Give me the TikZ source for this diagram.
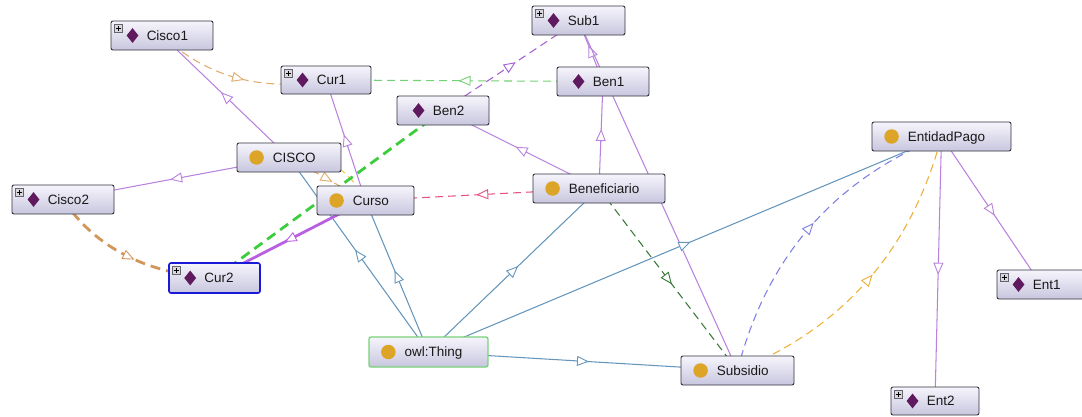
\documentclass[tikz,border=0pt]{standalone}
\usepackage{fontspec}
\setmainfont{Liberation Sans}
\usetikzlibrary{arrows.meta,decorations.markings,shapes.geometric}
\pgfdeclarelayer{bg}
\pgfdeclarelayer{edges}
\pgfsetlayers{bg,edges,main}
\definecolor{nodetop}{RGB}{246,245,252}
\definecolor{nodebot}{RGB}{200,198,222}
\definecolor{nodeborder}{RGB}{50,50,60}
\definecolor{diamc}{RGB}{95,25,95}
\definecolor{goldc}{RGB}{220,165,40}
\definecolor{vioc}{RGB}{185,130,222}
\definecolor{viothick}{RGB}{185,95,225}
\definecolor{bluegray}{RGB}{100,150,188}
\definecolor{greenl}{RGB}{115,210,115}
\definecolor{greenthick}{RGB}{60,205,60}
\definecolor{greendark}{RGB}{55,120,55}
\definecolor{pinkc}{RGB}{230,80,130}
\definecolor{purpd}{RGB}{165,95,212}
\definecolor{orl}{RGB}{225,172,110}
\definecolor{tanc}{RGB}{210,150,90}
\definecolor{orng}{RGB}{238,175,55}
\definecolor{bluep}{RGB}{125,125,228}
\definecolor{yelc}{RGB}{240,205,90}
\definecolor{txtc}{RGB}{25,25,25}
\definecolor{plusfill}{RGB}{215,215,220}
\definecolor{plusborder}{RGB}{100,100,110}
\definecolor{selblue}{RGB}{25,25,215}
\definecolor{thinggreen}{RGB}{120,210,120}

\tikzset{
  box/.style={draw=nodeborder, line width=0.9pt, rounded corners=2pt,
    top color=nodetop, bottom color=nodebot, inner sep=0pt},
  lbl/.style={inner sep=0pt, text=txtc, font=\fontsize{13.5}{15}\selectfont},
  midtri/.style={postaction={decorate,decoration={markings,
      mark=at position 0.5 with {\arrow[xshift=6pt]{Triangle[length=12pt,width=10pt,fill=white,line width=0.9pt]}}}}},
  edgethin/.style={line width=1.05pt, midtri},
  edgethick/.style={line width=2.8pt, midtri},
  dsh/.style={dash pattern=on 8pt off 5pt},
  dshthick/.style={dash pattern=on 10pt off 6pt},
}

\newcommand{\gbox}[6][]{%
  \node[box,#1,minimum width={(#5-#3)*1pt},minimum height={(#6-#4)*1pt}]
    (#2) at ({(#3+#5)/2},{(#4+#6)/2}) {};}
\newcommand{\indivlabel}[2]{%
  \node[diamond, fill=diamc, minimum width=12pt, minimum height=15pt, inner sep=0pt]
    (#1-ic) at ([xshift=22pt]#1.west) {};
  \node[lbl, anchor=base west] (#1-tx) at ([xshift=36pt,yshift=-4.8pt]#1.west) {#2};}
\newcommand{\classlabel}[2]{%
  \node[circle, fill=goldc, minimum size=14.5pt, inner sep=0pt]
    (#1-ic) at ([xshift=20pt]#1.west) {};
  \node[lbl, anchor=base west] (#1-tx) at ([xshift=36pt,yshift=-4.8pt]#1.west) {#2};}
\newcommand{\plusicon}[1]{%
  \node[draw=plusborder, fill=plusfill, minimum size=8pt, inner sep=0pt, line width=0.5pt]
    (#1-pl) at ([xshift=8pt,yshift=-8pt]#1.north west) {};
  \draw[line width=0.7pt, black] ([xshift=-2.5pt]#1-pl.center) -- ([xshift=2.5pt]#1-pl.center);
  \draw[line width=0.7pt, black] ([yshift=-2.5pt]#1-pl.center) -- ([yshift=2.5pt]#1-pl.center);}

\begin{document}
\begin{tikzpicture}[x=1pt,y=-1pt]
\useasboundingbox (0,0) rectangle (1082,416);
\begin{pgfonlayer}{bg}
\fill[white] (0,0) rectangle (1082,416);
\end{pgfonlayer}

% ---------- nodes ----------
\gbox{cisco1}{111}{21}{213}{50}
\gbox{cur1}{281}{66}{371}{94}
\gbox{sub1}{532}{6}{625}{35}
\gbox{ben1}{557}{67}{649}{96}
\gbox{ben2}{397}{96}{489}{125}
\gbox{cisco}{237}{143}{341}{172}
\gbox{cisco2}{12}{185}{114}{214}
\gbox{curso}{317}{186}{414}{215}
\gbox{benef}{533}{174}{665}{203}
\gbox{entidad}{872}{122}{1011}{151}
\gbox[draw=selblue,line width=1.6pt]{cur2}{169}{263}{260}{293}
\gbox{ent1}{997}{270}{1085}{299}
\gbox[draw=thinggreen,line width=1.3pt]{thing}{369}{337}{488}{367}
\gbox{subsidio}{681}{356}{794}{385}
\gbox{ent2}{891}{387}{979}{415}

\indivlabel{cisco1}{Cisco1}\plusicon{cisco1}
\indivlabel{cur1}{Cur1}\plusicon{cur1}
\indivlabel{sub1}{Sub1}\plusicon{sub1}
\indivlabel{ben1}{Ben1}
\indivlabel{ben2}{Ben2}
\indivlabel{cisco2}{Cisco2}\plusicon{cisco2}
\indivlabel{cur2}{Cur2}\plusicon{cur2}
\indivlabel{ent1}{Ent1}\plusicon{ent1}
\indivlabel{ent2}{Ent2}\plusicon{ent2}
\classlabel{cisco}{CISCO}
\classlabel{curso}{Curso}
\classlabel{benef}{Beneficiario}
\classlabel{entidad}{EntidadPago}
\classlabel{thing}{owl:Thing}
\classlabel{subsidio}{Subsidio}

% ---------- edges ----------
\begin{pgfonlayer}{edges}
% thin violet
\draw[edgethin, vioc] (cisco.center) -- (cisco1.center);
\draw[edgethin, vioc] (cisco.center) -- (cisco2.center);
\draw[edgethin, vioc] (curso.center) -- (cur1.center);
\draw[edgethin, vioc] (ben1.center) -- (sub1.center);
\draw[edgethin, vioc] (subsidio.center) -- (sub1.center);
\draw[edgethin, vioc] (benef.center) -- (ben1.center);
\draw[edgethin, vioc] (benef.center) -- (ben2.center);
\draw[edgethin, vioc] (entidad.center) -- (ent2.center);
\draw[edgethin, vioc] (entidad.center) -- (ent1.center);
% blue-gray from owl:Thing
\draw[edgethin, bluegray] (thing.center) -- (cisco.center);
\draw[edgethin, bluegray] (thing.center) -- (curso.center);
\draw[edgethin, bluegray] (thing.center) -- (benef.center);
\draw[edgethin, bluegray] (thing.center) -- (entidad.center);
\draw[edgethin, bluegray] (thing.center) -- (subsidio.center);
% dashed thin
\draw[edgethin, dsh, greenl] (ben1.center) -- (cur1.center);
\draw[edgethin, dsh, purpd] (ben2.center) -- (sub1.center);
\draw[edgethin, dsh, pinkc] (benef.center) -- (curso.center);
\draw[edgethin, dsh, greendark] (benef.center) -- (subsidio.center);
\draw[edgethin, dsh, orl] (cisco1.center) .. controls (207.3,77.3) and (262,92.2) .. (cur1.center);
\draw[edgethin, dsh, orl] (cisco.center) -- (curso.center);
\draw[line width=1.2pt, dsh, yelc] (cisco.center) .. controls (322,150) and (352,172) .. (curso.center);
\draw[edgethin, dsh, bluep] (subsidio.center) .. controls (766.2,257.2) and (834.2,179.2) .. (entidad.center);
\draw[edgethin, dsh, orng] (subsidio.center) .. controls (843.5,327.8) and (911.5,249.8) .. (entidad.center);
% thick
\draw[edgethick, dshthick, greenthick] (ben2.center) -- (cur2.center);
\draw[edgethick, viothick] (curso.center) -- (cur2.center);
\draw[edgethick, dshthick, tanc] (cisco2.center) .. controls (95.2,247.3) and (145.7,273.5) .. (cur2.center);
\end{pgfonlayer}
\end{tikzpicture}
\end{document}
